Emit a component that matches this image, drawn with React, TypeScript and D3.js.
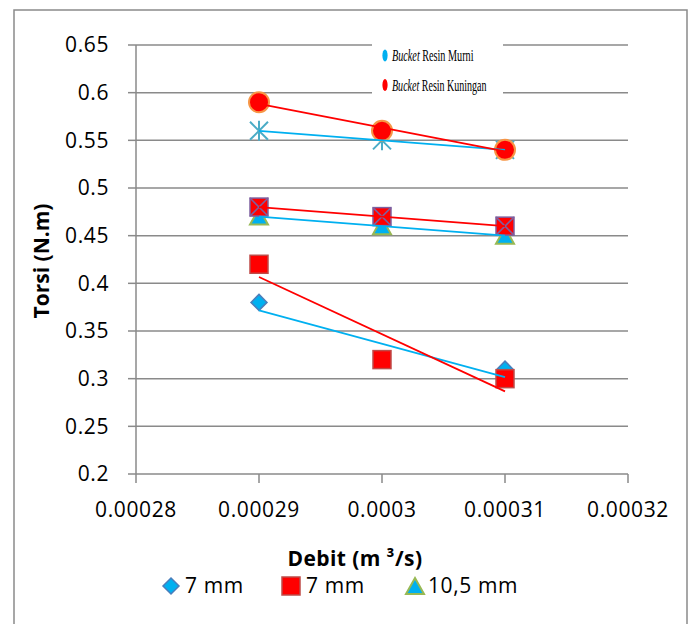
import React from 'react';
import * as d3 from 'd3';

// Debit (m3/s) on x, Torsi (N.m) on y
const debit = [0.00029, 0.0003, 0.00031];
const murni7 = [0.38, 0.32, 0.31]; // diamond
const kuningan7 = [0.42, 0.32, 0.3]; // square
const murni105 = [0.47, 0.46, 0.45]; // triangle
const kuningan105 = [0.48, 0.47, 0.46]; // crossed square
const murniTop = [0.56, 0.55, 0.54]; // star
const kuninganTop = [0.59, 0.56, 0.54]; // circle

const xTicks = [0.00028, 0.00029, 0.0003, 0.00031, 0.00032];
const xTickLabels = ['0.00028', '0.00029', '0.0003', '0.00031', '0.00032'];
const yTicks = [0.2, 0.25, 0.3, 0.35, 0.4, 0.45, 0.5, 0.55, 0.6, 0.65];
const yTickLabels = ['0.2', '0.25', '0.3', '0.35', '0.4', '0.45', '0.5', '0.55', '0.6', '0.65'];

const BLUE = '#00B0F0';
const RED = '#FF0000';
const GRID = '#8a8a8a';
const SANS = '"Open Sans", sans-serif';
const SERIF = '"Liberation Serif", serif';

type Marker = 'diamond' | 'square' | 'triangle' | 'xsquare' | 'star' | 'circle';

type Series = {
  values: number[];
  marker: Marker;
  trend: string;
};

const series: Series[] = [
  { values: murni7, marker: 'diamond', trend: BLUE },
  { values: kuningan7, marker: 'square', trend: RED },
  { values: murni105, marker: 'triangle', trend: BLUE },
  { values: kuningan105, marker: 'xsquare', trend: RED },
  { values: murniTop, marker: 'star', trend: BLUE },
  { values: kuninganTop, marker: 'circle', trend: RED },
];

const x = d3.scaleLinear().domain([0.00028, 0.00032]).range([136, 628]);
const y = d3.scaleLinear().domain([0.2, 0.65]).range([474, 45]);

/* least squares line over the series, from first to last x */
const linearFit = (xs: number[], ys: number[]): [number, number][] => {
  const mx = d3.mean(xs) as number;
  const my = d3.mean(ys) as number;
  const sxy = d3.sum(xs, (v, i) => (v - mx) * (ys[i] - my));
  const sxx = d3.sum(xs, (v) => (v - mx) * (v - mx));
  const slope = sxy / sxx;
  const a = xs[0];
  const b = xs[xs.length - 1];
  return [
    [a, my + slope * (a - mx)],
    [b, my + slope * (b - mx)],
  ];
};

const MarkerShape = ({ type, cx, cy }: { type: Marker; cx: number; cy: number }) => {
  switch (type) {
    case 'diamond':
      return (
        <path
          d={`M${cx},${cy - 8}L${cx + 8},${cy}L${cx},${cy + 8}L${cx - 8},${cy}Z`}
          fill={BLUE}
          stroke="#4A7EBB"
          strokeWidth={1.5}
        />
      );
    case 'square':
      return <rect x={cx - 9} y={cy - 9} width={18} height={18} fill={RED} stroke="#BE4B48" strokeWidth={1.5} />;
    case 'triangle':
      return (
        <path
          d={`M${cx},${cy - 8}L${cx + 9},${cy + 8}L${cx - 9},${cy + 8}Z`}
          fill={BLUE}
          stroke="#98B954"
          strokeWidth={2}
        />
      );
    case 'xsquare':
      return (
        <g>
          <rect x={cx - 9} y={cy - 9} width={18} height={18} fill={RED} stroke="#7D60A0" strokeWidth={1.5} />
          <path
            d={`M${cx - 9},${cy - 9}L${cx + 9},${cy + 9}M${cx + 9},${cy - 9}L${cx - 9},${cy + 9}`}
            stroke="#7D60A0"
            strokeWidth={1.5}
          />
        </g>
      );
    case 'star':
      return (
        <path
          d={`M${cx - 9},${cy - 9}L${cx + 9},${cy + 9}M${cx + 9},${cy - 9}L${cx - 9},${cy + 9}M${cx},${cy - 10}L${cx},${cy + 10}`}
          stroke="#4BACC6"
          strokeWidth={2}
          fill="none"
        />
      );
    case 'circle':
      return <circle cx={cx} cy={cy} r={10} fill={RED} stroke="#F79646" strokeWidth={2} />;
  }
  return null;
};

const App = () => {
  const line = d3
    .line<[number, number]>()
    .x((d) => x(d[0]))
    .y((d) => y(d[1]));

  return (
    <div style={{ position: 'absolute', left: 0, top: 0 }}>
      <svg width={692} height={624} style={{ display: 'block', background: '#fff' }}>
        {/* outer frame */}
        <rect x={14} y={10} width={673} height={640} fill="none" stroke={GRID} strokeWidth={1.5} />

        {/* gridlines */}
        {yTicks.slice(1).map((t) => (
          <line key={t} x1={136} x2={628} y1={y(t)} y2={y(t)} stroke={GRID} strokeWidth={1.5} />
        ))}

        {/* legend box inside the plot, narrow serif text */}
        <g fontFamily={SERIF} fontSize={17} fill="#000">
          <rect x={372} y={38} width={131} height={60} fill="#fff" />
          <ellipse cx={385} cy={55.5} rx={2.6} ry={6} fill={BLUE} />
          <text transform="translate(392,61) scale(0.6,1)">
            <tspan fontStyle="italic">Bucket</tspan> Resin Murni
          </text>
          <ellipse cx={385} cy={85} rx={2.6} ry={6} fill={RED} />
          <text transform="translate(392,91) scale(0.59,1)">
            <tspan fontStyle="italic">Bucket</tspan> Resin Kuningan
          </text>
        </g>

        {/* axes */}
        <line x1={136} x2={136} y1={45} y2={474} stroke={GRID} strokeWidth={1.5} />
        <line x1={136} x2={628} y1={474} y2={474} stroke={GRID} strokeWidth={1.5} />
        {yTicks.map((t, i) => (
          <g key={t}>
            <line x1={128} x2={136} y1={y(t)} y2={y(t)} stroke={GRID} strokeWidth={1.5} />
            <text
              x={109}
              y={y(t)}
              dy="0.35em"
              textAnchor="end"
              fontFamily={SANS}
              fontSize={21}
              letterSpacing={0.6}
              fill="#000"
            >
              {yTickLabels[i]}
            </text>
          </g>
        ))}
        {xTicks.map((t, i) => (
          <g key={t}>
            <line x1={x(t)} x2={x(t)} y1={474} y2={483} stroke={GRID} strokeWidth={1.5} />
            <text
              x={x(t)}
              y={517}
              textAnchor="middle"
              fontFamily={SANS}
              fontSize={21}
              letterSpacing={0.6}
              fill="#000"
            >
              {xTickLabels[i]}
            </text>
          </g>
        ))}

        {/* markers */}
        {series.map((s, si) => (
          <g key={si}>
            {s.values.map((v, i) => (
              <MarkerShape key={i} type={s.marker} cx={x(debit[i])} cy={y(v)} />
            ))}
          </g>
        ))}

        {/* linear trendlines */}
        {series.map((s, si) => (
          <path key={si} d={line(linearFit(debit, s.values)) || ''} stroke={s.trend} strokeWidth={1.8} fill="none" />
        ))}

        {/* axis titles */}
        <text
          transform="translate(49,261) rotate(-90)"
          textAnchor="middle"
          fontFamily={SANS}
          fontWeight="bold"
          fontSize={21}
          fill="#000"
        >
          Torsi (N.m)
        </text>
        <text x={355} y={566} textAnchor="middle" fontFamily={SANS} fontWeight="bold" fontSize={21} letterSpacing={0.4} fill="#000">
          Debit (m ³/s)
        </text>

        {/* bottom legend */}
        <g fontFamily={SANS} fontSize={21} letterSpacing={0.6} fill="#000">
          <MarkerShape type="diamond" cx={171} cy={586} />
          <text x={185} y={593}>7 mm</text>
          <MarkerShape type="square" cx={291} cy={586} />
          <text x={306} y={593}>7 mm</text>
          <MarkerShape type="triangle" cx={415} cy={586} />
          <text x={428} y={593}>10,5 mm</text>
        </g>
      </svg>
    </div>
  );
};

export default App;
